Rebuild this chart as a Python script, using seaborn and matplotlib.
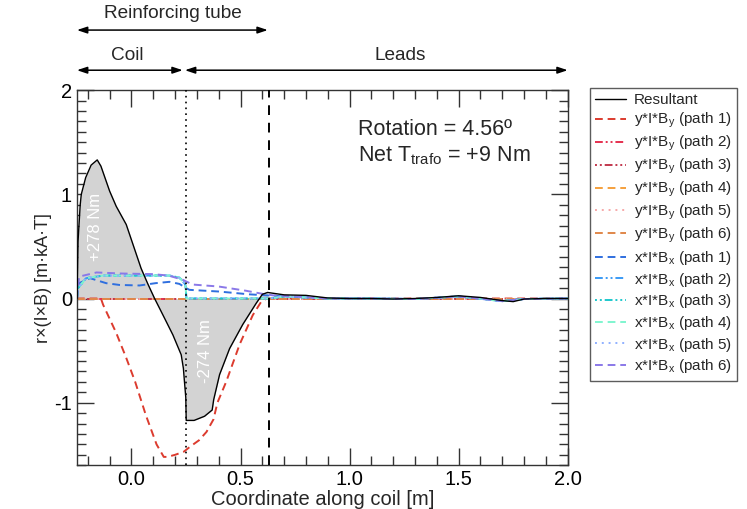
import numpy as np
import pandas as pd
import matplotlib
matplotlib.use("Agg")
import matplotlib.pyplot as plt
from matplotlib.ticker import MultipleLocator, FormatStrFormatter
import seaborn as sns

# --- data ---
res_x = [-0.25, -0.245, -0.235, -0.23, -0.21, -0.185, -0.157, -0.14, -0.115, -0.10, -0.07,
         -0.024, 0.01, 0.044, 0.075, 0.106, 0.135, 0.159, 0.19, 0.228, 0.238, 0.243, 0.249,
         0.251, 0.287, 0.335, 0.37, 0.377, 0.404, 0.45, 0.51, 0.572, 0.60, 0.624, 0.65,
         0.70, 0.80, 0.90, 1.0, 1.1, 1.2, 1.3, 1.4, 1.5, 1.6, 1.7, 1.75, 1.8, 1.9, 2.0]
res_y = [0.0, 0.55, 0.9, 1.0, 1.16, 1.28, 1.33, 1.27, 1.12, 1.03, 0.885,
         0.71, 0.50, 0.29, 0.14, 0.0, -0.12, -0.22, -0.35, -0.54, -0.67, -0.80, -0.95,
         -1.17, -1.17, -1.13, -1.07, -0.97, -0.73, -0.48, -0.25, -0.045, 0.04, 0.058, 0.05,
         0.035, 0.03, 0.005, 0.0, 0.0, -0.005, 0.0, 0.01, 0.026, 0.01, -0.02, -0.03, -0.005, 0.0, 0.0]

ypath1_x = [-0.25, -0.14, -0.13, -0.07, -0.024, 0.017, 0.066, 0.115, 0.148, 0.165, 0.20, 0.24,
            0.27, 0.31, 0.344, 0.376, 0.394, 0.434, 0.496, 0.556, 0.595, 0.62, 2.0]
ypath1_y = [0.0, 0.0, -0.06, -0.33, -0.57, -0.80, -1.12, -1.40, -1.52, -1.52, -1.50, -1.47,
            -1.42, -1.36, -1.28, -1.16, -1.0, -0.80, -0.44, -0.16, -0.03, 0.0, 0.0]

yzero_x = [-0.25, 0.25, 0.63, 2.0]
yzero_y = [0.0, 0.0, 0.0, 0.0]

xpath1_x = [-0.25, -0.24, -0.19, -0.116, -0.055, 0.037, 0.11, 0.174, 0.22, 0.25, 0.266, 0.40,
            0.54, 0.62, 0.70, 0.90, 1.1, 1.3, 1.5, 1.7, 1.8, 2.0]
xpath1_y = [0.0, 0.147, 0.195, 0.147, 0.13, 0.125, 0.147, 0.16, 0.14, 0.10, 0.083, 0.067,
            0.04, 0.03, 0.02, 0.0, 0.0, -0.005, 0.02, -0.025, -0.005, 0.0]

xmid_x = [-0.25, -0.245, -0.208, -0.13, 0.0, 0.10, 0.174, 0.22, 0.243, 0.248, 0.252, 0.63,
          0.70, 0.90, 1.1, 1.3, 1.5, 1.7, 1.8, 2.0]
xmid_y = [0.0, 0.10, 0.195, 0.22, 0.22, 0.22, 0.22, 0.20, 0.147, 0.12, 0.0, 0.0,
          0.02, 0.0, 0.0, -0.005, 0.02, -0.025, -0.005, 0.0]

xpath6_x = [-0.25, -0.24, -0.16, -0.05, 0.098, 0.17, 0.235, 0.28, 0.40, 0.526, 0.60, 0.65,
            0.70, 0.90, 1.1, 1.3, 1.5, 1.7, 1.8, 2.0]
xpath6_y = [0.0, 0.21, 0.25, 0.24, 0.234, 0.22, 0.18, 0.134, 0.115, 0.074, 0.045, 0.03,
            0.025, 0.0, 0.0, -0.005, 0.02, -0.025, -0.005, 0.0]

sns.set_style("ticks")
plt.rcParams["font.family"] = ["Liberation Sans", "DejaVu Sans"]
plt.rcParams["mathtext.fontset"] = "custom"
plt.rcParams["mathtext.rm"] = "Liberation Sans"
plt.rcParams["mathtext.it"] = "Liberation Sans:italic"

fig = plt.figure(figsize=(7.47, 5.09), dpi=100)
ax = fig.add_axes([0.103, 0.086, 0.657, 0.737])

# gray area under resultant (coil + tube)
res_df = pd.DataFrame({"x": res_x, "y": res_y})
fill = res_df[res_df["x"] <= 0.63]
ax.fill_between(fill["x"], fill["y"], 0, color="#d3d3d3", lw=0, zorder=1)

series = [
    ("Resultant", res_x, res_y, "black", "-"),
    (r"y*I*B$_\mathrm{y}$ (path 1)", ypath1_x, ypath1_y, "#dc3b2e", (0, (4, 2.5))),
    (r"y*I*B$_\mathrm{y}$ (path 2)", yzero_x, yzero_y, "#e5304f", (0, (4, 1.5, 1, 1.5, 1, 1.5))),
    (r"y*I*B$_\mathrm{y}$ (path 3)", yzero_x, yzero_y, "#c2384e", (0, (1, 1.5, 1, 1.5, 4, 1.5))),
    (r"y*I*B$_\mathrm{y}$ (path 4)", yzero_x, yzero_y, "#f5a03c", (0, (4, 2.5))),
    (r"y*I*B$_\mathrm{y}$ (path 5)", yzero_x, yzero_y, "#f6a9a9", (0, (1, 2.5))),
    (r"y*I*B$_\mathrm{y}$ (path 6)", yzero_x, yzero_y, "#e0874a", (0, (4, 2.5))),
    (r"x*I*B$_\mathrm{x}$ (path 1)", xpath1_x, xpath1_y, "#2f6fdf", (0, (4, 2.5))),
    (r"x*I*B$_\mathrm{x}$ (path 2)", xmid_x, xmid_y, "#3a9af5", (0, (4, 1.5, 1, 1.5, 1, 1.5))),
    (r"x*I*B$_\mathrm{x}$ (path 3)", xmid_x, xmid_y, "#1ec8cc", (0, (1, 1.5, 1, 1.5, 4, 1.5))),
    (r"x*I*B$_\mathrm{x}$ (path 4)", xmid_x, xmid_y, "#7ff5cf", (0, (4, 2.5))),
    (r"x*I*B$_\mathrm{x}$ (path 5)", xmid_x, xmid_y, "#8fb0ff", (0, (1, 2.5))),
    (r"x*I*B$_\mathrm{x}$ (path 6)", xpath6_x, xpath6_y, "#8a78e8", (0, (4, 2.5))),
]

for label, xs, ys, col, ls in series:
    is_res = label == "Resultant"
    sns.lineplot(x=xs, y=ys, ax=ax, color=col, linestyle=ls, lw=1.0 if is_res else 1.4,
                 label=label, sort=False, estimator=None, zorder=5 if is_res else 2)

ax.axvline(0.25, color="black", ls=(0, (1, 2.5)), lw=1.2, zorder=4)
ax.axvline(0.63, color="black", ls=(0, (5, 4)), lw=1.4, zorder=4)

ax.set_xlim(-0.25, 2.0)
ax.set_ylim(-1.6, 2.0)
ax.xaxis.set_major_locator(MultipleLocator(0.5))
ax.xaxis.set_minor_locator(MultipleLocator(0.1))
ax.yaxis.set_minor_locator(MultipleLocator(0.1))
ax.set_yticks([-1, 0, 1, 2])
ax.set_yticklabels(["-1", "0", "1", "2"])
ax.xaxis.set_major_formatter(FormatStrFormatter("%.1f"))
ax.tick_params(which="both", direction="in", top=True, right=True, colors="#333333",
               labelcolor="black", labelsize=14.5)
ax.tick_params(which="major", length=12, width=1)
ax.tick_params(which="minor", length=6.5, width=1)
for s in ax.spines.values():
    s.set_color("#333333")
    s.set_linewidth(1)

ax.set_xlabel("Coordinate along coil [m]", fontsize=14.5, labelpad=1)
ax.set_ylabel("r×(I×B) [m·kA·T]", fontsize=13, labelpad=2)

ax.text(1.04, 1.62, "Rotation = 4.56º", fontsize=15.5, va="center", ha="left")
ax.text(1.04, 1.37, r"Net T$_\mathrm{trafo}$ = +9 Nm", fontsize=15.5, va="center", ha="left")

ax.text(-0.165, 0.69, "+278 Nm", color="white", rotation=90, fontsize=12, ha="center", va="center", zorder=6)
ax.text(0.338, -0.5, "-274 Nm", color="white", rotation=90, fontsize=12, ha="center", va="center", zorder=6)

# region arrows above the axes
arrow = dict(arrowstyle="<|-|>,head_length=0.6,head_width=0.2", color="black", lw=1.1,
             shrinkA=0, shrinkB=0)
tr = ax.get_xaxis_transform()
ax.annotate("", xy=(-0.25, 1.16), xytext=(0.625, 1.16), xycoords=tr, textcoords=tr,
            arrowprops=arrow, annotation_clip=False)
ax.annotate("", xy=(-0.25, 1.053), xytext=(0.235, 1.053), xycoords=tr, textcoords=tr,
            arrowprops=arrow, annotation_clip=False)
ax.annotate("", xy=(0.245, 1.053), xytext=(2.0, 1.053), xycoords=tr, textcoords=tr,
            arrowprops=arrow, annotation_clip=False)
ax.text(0.19, 1.205, "Reinforcing tube", transform=tr, fontsize=13.7, ha="center", va="center")
ax.text(-0.02, 1.093, "Coil", transform=tr, fontsize=13.7, ha="center", va="center")
ax.text(1.23, 1.093, "Leads", transform=tr, fontsize=13.7, ha="center", va="center")

leg = ax.legend(loc="upper left", bbox_to_anchor=(0.790, 0.827), bbox_transform=fig.transFigure,
                fontsize=11, frameon=True, fancybox=False, edgecolor="#333333",
                handlelength=2.0, labelspacing=0.24, borderpad=0.35, handletextpad=0.5,
                borderaxespad=0)
leg.get_frame().set_linewidth(1)

fig.savefig("out.png", dpi=100)
